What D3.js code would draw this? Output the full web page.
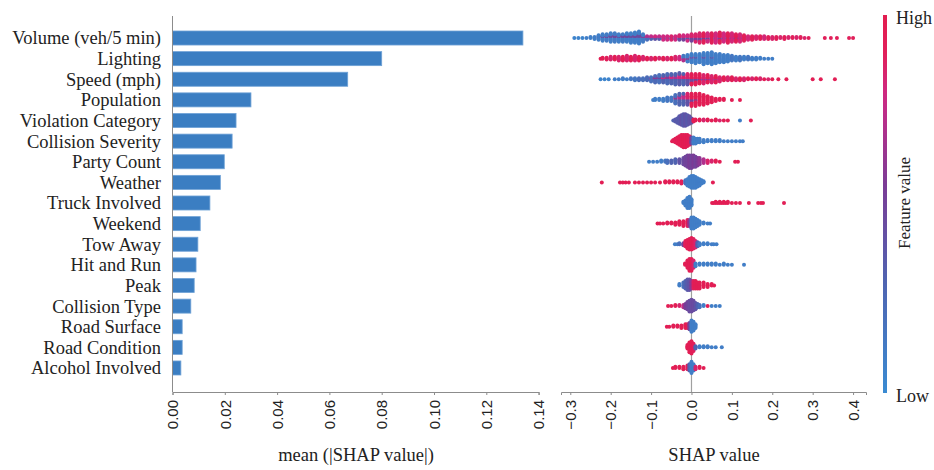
<!DOCTYPE html>
<html>
<head>
<meta charset="utf-8">
<script src="https://cdn.jsdelivr.net/npm/d3@7"></script>
<style>
  html, body { margin: 0; padding: 0; background: #fff; }
  svg { display: block; }
</style>
</head>
<body>
<script>
// Feature names, ordered by mean |SHAP|
const features = [
  "Volume (veh/5 min)", "Lighting", "Speed (mph)", "Population",
  "Violation Category", "Collision Severity", "Party Count", "Weather",
  "Truck Involved", "Weekend", "Tow Away", "Hit and Run", "Peak",
  "Collision Type", "Road Surface", "Road Condition", "Alcohol Involved"
];

// mean(|SHAP value|) per feature
const meanAbsShap = [
  0.134, 0.080, 0.067, 0.030, 0.0243, 0.0228, 0.0198, 0.0183,
  0.0143, 0.0106, 0.0097, 0.0090, 0.0083, 0.0070, 0.0037, 0.0037, 0.0032
];

const barTicks = [0, 0.02, 0.04, 0.06, 0.08, 0.10, 0.12, 0.14];
const shapTicks = [-0.3, -0.2, -0.1, 0.0, 0.1, 0.2, 0.3, 0.4];

// SHAP samples per feature: [shap value, number of samples, feature value (0 = low, 1 = high)]
const shapVolume = [
  [-0.29,1,0.05],[-0.28,1,0.05],[-0.27,1,0.05],[-0.26,1,0.1],[-0.25,2,0.1],
  [-0.24,3,0.1],[-0.23,5,0.1],[-0.23,1,0.4],[-0.22,6,0.1],[-0.22,2,0.45],[-0.21,6,0.12],[-0.21,2,0.5],
  [-0.20,7,0.1],[-0.20,3,0.45],[-0.19,7,0.12],[-0.19,3,0.5],[-0.18,7,0.1],[-0.18,2,0.45],
  [-0.17,6,0.12],[-0.17,3,0.5],[-0.16,7,0.1],[-0.16,3,0.5],[-0.15,8,0.1],[-0.15,3,0.45],
  [-0.14,9,0.1],[-0.14,3,0.5],[-0.13,10,0.1],[-0.13,4,0.45],[-0.12,7,0.12],[-0.12,2,0.6],
  [-0.11,3,0.2],[-0.11,2,0.7],[-0.10,2,0.3],[-0.10,2,0.75],[-0.09,2,0.4],[-0.09,2,0.8],
  [-0.08,2,0.35],[-0.08,2,0.75],[-0.07,2,0.4],[-0.07,3,0.8],[-0.06,2,0.5],[-0.06,3,0.8],
  [-0.05,2,0.4],[-0.05,3,0.85],[-0.04,2,0.5],[-0.04,3,0.8],[-0.03,3,0.45],[-0.03,3,0.85],
  [-0.02,3,0.5],[-0.02,3,0.8],[-0.01,3,0.4],[-0.01,4,0.8],
  [0.00,4,0.5],[0.00,4,0.85],[0.01,4,0.55],[0.01,5,0.85],[0.02,4,0.5],[0.02,7,0.85],
  [0.03,3,0.55],[0.03,8,0.92],[0.04,3,0.5],[0.04,7,0.8],[0.05,2,0.6],[0.05,9,0.92],
  [0.06,2,0.55],[0.06,9,0.8],[0.07,3,0.6],[0.07,9,0.92],[0.08,2,0.55],[0.08,8,0.8],
  [0.09,2,0.6],[0.09,9,0.92],[0.10,2,0.6],[0.10,8,0.82],[0.11,2,0.55],[0.11,7,0.92],
  [0.12,2,0.6],[0.12,7,0.82],[0.13,1,0.6],[0.13,6,0.9],[0.14,5,0.82],[0.15,5,0.92],
  [0.16,4,0.85],[0.17,4,0.9],[0.18,4,0.82],[0.19,3,0.9],[0.20,3,0.85],[0.21,3,0.9],
  [0.22,2,0.85],[0.23,3,0.9],[0.24,2,0.85],[0.25,2,0.9],[0.26,2,0.85],[0.27,2,0.9],
  [0.28,1,0.85],[0.29,1,0.9],
  [0.33,1,0.9],[0.345,1,0.9],[0.36,1,0.9],[0.39,1,0.9],[0.40,1,0.9]
];
const shapLighting = [
  [-0.225,1,0.95],[-0.22,2,0.95],[-0.21,3,0.9],[-0.20,4,0.85],[-0.19,4,0.95],[-0.18,5,0.85],
  [-0.17,5,0.95],[-0.16,6,0.85],[-0.15,5,0.95],[-0.14,6,0.85],[-0.13,5,0.95],[-0.12,4,0.85],
  [-0.11,3,0.95],[-0.10,3,0.85],[-0.09,3,0.95],[-0.08,2,0.85],[-0.07,3,0.95],[-0.06,3,0.85],
  [-0.05,3,0.95],[-0.04,4,0.85],[-0.03,4,0.8],[-0.02,3,0.7],[-0.02,3,0.15],[-0.01,3,0.6],[-0.01,5,0.1],
  [0.00,8,0.1],[0.00,2,0.6],[0.01,9,0.1],[0.01,2,0.5],[0.02,10,0.1],[0.03,11,0.1],[0.03,2,0.55],
  [0.04,12,0.1],[0.05,12,0.1],[0.05,2,0.45],[0.06,11,0.1],[0.07,10,0.1],[0.08,9,0.1],
  [0.09,8,0.1],[0.10,6,0.15],[0.11,5,0.1],[0.12,5,0.15],[0.13,4,0.1],[0.14,4,0.15],
  [0.15,3,0.1],[0.16,3,0.1],[0.17,2,0.1],[0.18,1,0.1],[0.19,1,0.1],[0.20,1,0.1]
];
const shapSpeed = [
  [-0.225,1,0.05],[-0.215,1,0.05],[-0.205,1,0.05],[-0.19,1,0.1],[-0.18,1,0.1],[-0.17,2,0.1],
  [-0.16,1,0.1],[-0.15,2,0.15],[-0.14,3,0.15],[-0.13,3,0.2],[-0.12,3,0.2],[-0.11,4,0.25],
  [-0.10,4,0.2],[-0.10,1,0.7],[-0.09,5,0.25],[-0.09,2,0.6],[-0.08,6,0.2],[-0.08,2,0.5],
  [-0.07,6,0.3],[-0.07,2,0.8],[-0.06,7,0.25],[-0.06,3,0.6],[-0.05,7,0.3],[-0.05,3,0.8],
  [-0.04,8,0.3],[-0.04,3,0.7],[-0.03,8,0.35],[-0.03,4,0.8],[-0.02,7,0.3],[-0.02,4,0.85],
  [-0.01,6,0.4],[-0.01,5,0.85],
  [0.00,4,0.45],[0.00,7,0.95],[0.01,3,0.5],[0.01,8,0.92],[0.02,2,0.55],[0.02,8,0.95],
  [0.03,2,0.6],[0.03,7,0.85],[0.04,2,0.6],[0.04,6,0.95],[0.05,1,0.6],[0.05,6,0.85],
  [0.06,2,0.7],[0.06,5,0.95],[0.07,5,0.85],[0.08,4,0.95],[0.09,4,0.85],[0.10,4,0.95],
  [0.11,3,0.85],[0.12,3,0.95],[0.13,3,0.85],[0.14,2,0.95],[0.15,2,0.85],[0.16,2,0.95],
  [0.17,2,0.85],[0.18,1,0.95],[0.19,1,0.85],[0.20,1,0.95],[0.215,1,0.95],[0.235,1,0.95],
  [0.30,1,0.95],[0.32,1,0.95],[0.355,1,0.95]
];
const shapPopulation = [
  [-0.095,1,0.1],[-0.09,2,0.1],[-0.08,2,0.1],[-0.07,3,0.1],[-0.06,4,0.15],[-0.05,4,0.15],
  [-0.04,6,0.2],[-0.04,2,0.6],[-0.03,7,0.3],[-0.03,3,0.7],[-0.02,6,0.3],[-0.02,4,0.75],
  [-0.01,5,0.4],[-0.01,5,0.85],[0.00,3,0.5],[0.00,8,0.95],[0.01,2,0.5],[0.01,9,0.95],
  [0.02,10,0.95],[0.03,9,0.95],[0.04,7,0.95],[0.05,5,0.95],[0.06,3,0.95],[0.07,2,0.95],
  [0.08,2,0.95],[0.10,1,0.95],[0.12,1,0.95]
];
const shapViolation = [
  [-0.045,1,0.3],[-0.04,3,0.35],[-0.035,5,0.35],[-0.03,8,0.35],[-0.025,10,0.4],[-0.02,12,0.35],
  [-0.015,12,0.4],[-0.01,10,0.35],[-0.005,8,0.4],[0.00,5,0.4],[0.005,3,0.95],[0.01,2,0.95],
  [0.02,2,0.95],[0.03,2,0.85],[0.04,2,0.95],[0.05,1,0.95],[0.06,2,0.95],[0.07,1,0.85],
  [0.08,1,0.95],[0.09,1,0.95],[0.12,1,0.1],[0.147,1,0.95]
];
const shapSeverity = [
  [-0.048,1,0.95],[-0.045,2,0.95],[-0.04,4,0.95],[-0.035,6,0.95],[-0.03,8,0.97],[-0.025,10,0.95],
  [-0.02,11,0.97],[-0.015,11,0.95],[-0.01,10,0.95],[-0.005,8,0.9],[0.00,6,0.5],[0.005,6,0.1],
  [0.01,5,0.1],[0.015,4,0.1],[0.02,4,0.1],[0.03,3,0.1],[0.04,2,0.1],[0.05,2,0.1],[0.06,2,0.1],
  [0.07,2,0.1],[0.08,1,0.1],[0.09,1,0.1],[0.10,1,0.1],[0.11,1,0.1],[0.12,1,0.1],[0.127,1,0.1]
];
const shapPartyCount = [
  [-0.105,1,0.1],[-0.095,1,0.1],[-0.085,1,0.1],[-0.075,2,0.1],[-0.065,2,0.15],[-0.06,3,0.2],
  [-0.05,3,0.3],[-0.04,4,0.3],[-0.03,4,0.4],[-0.02,6,0.45],[-0.015,8,0.5],[-0.01,10,0.5],
  [-0.005,11,0.55],[0.00,11,0.5],[0.005,10,0.55],[0.01,9,0.5],[0.015,7,0.55],[0.02,6,0.6],
  [0.03,4,0.7],[0.04,3,0.85],[0.05,2,0.85],[0.06,2,0.95],[0.07,1,0.95],[0.108,1,0.95],[0.115,1,0.95]
];
const shapWeather = [
  [-0.222,1,0.95],[-0.177,1,0.95],[-0.17,1,0.95],[-0.163,1,0.95],[-0.155,1,0.95],[-0.14,1,0.95],
  [-0.13,1,0.95],[-0.12,1,0.95],[-0.11,1,0.95],[-0.10,1,0.95],[-0.09,1,0.95],[-0.078,1,0.95],
  [-0.065,2,0.95],[-0.055,2,0.95],[-0.045,2,0.95],[-0.035,2,0.95],[-0.025,3,0.9],[-0.015,4,0.2],
  [-0.01,7,0.1],[-0.005,10,0.1],[0.00,12,0.1],[0.005,12,0.1],[0.01,11,0.1],[0.015,9,0.1],
  [0.02,7,0.1],[0.025,4,0.1],[0.03,2,0.1],[0.053,1,0.95]
];
const shapTruck = [
  [-0.02,2,0.1],[-0.015,5,0.1],[-0.01,9,0.1],[-0.005,10,0.1],[0.00,6,0.1],[0.051,1,0.95],
  [0.055,1,0.95],[0.06,2,0.95],[0.065,1,0.95],[0.07,2,0.95],[0.075,1,0.95],[0.08,2,0.95],
  [0.085,1,0.95],[0.09,2,0.95],[0.10,1,0.95],[0.11,1,0.95],[0.12,1,0.95],[0.142,1,0.95],
  [0.165,1,0.95],[0.172,1,0.95],[0.177,1,0.95],[0.229,1,0.95]
];
const shapWeekend = [
  [-0.084,1,0.95],[-0.078,1,0.95],[-0.07,1,0.95],[-0.06,2,0.95],[-0.05,2,0.95],[-0.04,3,0.95],
  [-0.03,4,0.95],[-0.02,5,0.95],[-0.01,6,0.9],[-0.005,6,0.6],[0.00,10,0.1],[0.005,10,0.1],
  [0.01,8,0.1],[0.015,6,0.1],[0.02,4,0.1],[0.03,2,0.1],[0.04,1,0.1],[0.046,1,0.1]
];
const shapTowAway = [
  [-0.041,1,0.1],[-0.035,1,0.1],[-0.03,2,0.2],[-0.02,3,0.5],[-0.015,6,0.9],[-0.01,9,0.95],
  [-0.005,11,0.95],[0.00,12,0.95],[0.005,10,0.9],[0.01,7,0.85],[0.015,5,0.3],[0.02,3,0.1],
  [0.03,2,0.1],[0.04,2,0.1],[0.05,1,0.1],[0.055,1,0.1],[0.062,1,0.1]
];
const shapHitRun = [
  [-0.016,2,0.95],[-0.01,6,0.95],[-0.005,9,0.95],[0.00,9,0.95],[0.005,6,0.85],[0.01,3,0.1],
  [0.02,2,0.1],[0.03,2,0.1],[0.04,2,0.1],[0.05,2,0.1],[0.06,2,0.1],[0.07,1,0.1],[0.08,2,0.1],
  [0.09,1,0.1],[0.10,1,0.1],[0.13,1,0.1]
];
const shapPeak = [
  [-0.03,2,0.1],[-0.02,4,0.2],[-0.015,6,0.3],[-0.01,8,0.35],[-0.005,8,0.4],[0.00,6,0.6],
  [0.005,6,0.9],[0.01,6,0.95],[0.015,5,0.95],[0.02,5,0.95],[0.03,4,0.95],[0.04,3,0.95],
  [0.05,2,0.95],[0.056,1,0.95]
];
const shapCollisionType = [
  [-0.058,1,0.95],[-0.05,1,0.95],[-0.04,2,0.95],[-0.03,2,0.85],[-0.02,3,0.75],[-0.015,5,0.55],
  [-0.01,8,0.5],[-0.005,11,0.45],[0.00,12,0.45],[0.005,10,0.45],[0.01,7,0.4],[0.015,4,0.3],
  [0.02,3,0.2],[0.03,2,0.1],[0.04,1,0.95],[0.05,1,0.1],[0.06,1,0.1],[0.07,1,0.1]
];
const shapRoadSurface = [
  [-0.061,1,0.95],[-0.055,1,0.95],[-0.045,2,0.95],[-0.035,2,0.95],[-0.025,3,0.95],[-0.015,4,0.95],
  [-0.01,4,0.95],[-0.005,6,0.5],[0.00,10,0.1],[0.005,8,0.1],[0.01,4,0.1]
];
const shapRoadCondition = [
  [-0.01,4,0.95],[-0.005,9,0.95],[0.00,11,0.95],[0.005,7,0.9],[0.01,3,0.3],[0.02,2,0.1],
  [0.03,2,0.1],[0.04,2,0.1],[0.05,1,0.1],[0.06,1,0.1],[0.075,1,0.1]
];
const shapAlcohol = [
  [-0.046,1,0.95],[-0.04,2,0.95],[-0.03,2,0.95],[-0.02,3,0.95],[-0.01,4,0.9],[-0.005,6,0.3],
  [0.00,10,0.1],[0.005,6,0.1],[0.01,3,0.85],[0.02,2,0.95],[0.03,1,0.95]
];

const shapRows = [
  shapVolume, shapLighting, shapSpeed, shapPopulation, shapViolation, shapSeverity,
  shapPartyCount, shapWeather, shapTruck, shapWeekend, shapTowAway, shapHitRun, shapPeak,
  shapCollisionType, shapRoadSurface, shapRoadCondition, shapAlcohol
];

// ---------- drawing ----------
const W = 934, H = 470;
const serif = "'Liberation Serif', 'DejaVu Serif', serif";
const sans = "'Liberation Sans', Arial, sans-serif";
const axisGrey = "#8c8c8c";
const textCol = "#222";

const svg = d3.select("body").append("svg")
  .attr("width", W).attr("height", H)
  .style("background", "#fff");

// shared row scale for both panels
const y = d3.scaleBand()
  .domain(features)
  .range([27.7, 378.3])
  .paddingInner(0.32)
  .paddingOuter(0.16);
const rowCenter = f => y(f) + y.bandwidth() / 2;

// blue -> purple -> red colour map for feature values
const colorMap = d3.scaleLinear()
  .domain([0, 0.3, 0.55, 0.78, 0.9, 1])
  .range(["#3a8bd2", "#5063b0", "#7b3c96", "#cc2a86", "#e11f5a", "#e21d50"])
  .interpolate(d3.interpolateRgb)
  .clamp(true);

// ===== left panel: mean |SHAP| bars =====
const xBar = d3.scaleLinear().domain([0, 0.14]).range([172.5, 538.6]);
const left = svg.append("g");

left.selectAll("rect.bar")
  .data(features)
  .join("rect")
  .attr("class", "bar")
  .attr("x", xBar(0))
  .attr("y", d => y(d))
  .attr("width", (d, i) => xBar(meanAbsShap[i]) - xBar(0))
  .attr("height", y.bandwidth())
  .attr("fill", "#3b7ec2")
  .attr("stroke", "#6fa2d6")
  .attr("stroke-width", 0.8);

left.selectAll("text.cat")
  .data(features)
  .join("text")
  .attr("class", "cat")
  .attr("x", 161)
  .attr("y", d => rowCenter(d))
  .attr("dy", "0.35em")
  .attr("text-anchor", "end")
  .attr("font-family", serif)
  .attr("font-size", 18.5)
  .attr("fill", textCol)
  .text(d => d);

// left spine
left.append("line")
  .attr("x1", xBar(0)).attr("x2", xBar(0))
  .attr("y1", 16).attr("y2", 392)
  .attr("stroke", axisGrey).attr("stroke-width", 1);

const barAxis = d3.axisBottom(xBar)
  .tickValues(barTicks)
  .tickFormat(d3.format(".2f"))
  .tickSize(3)
  .tickPadding(4);
const gBarAxis = svg.append("g").attr("transform", "translate(0,392)").call(barAxis);

// ===== right panel: SHAP beeswarm =====
const xShap = d3.scaleLinear().domain([-0.323, 0.432]).range([561, 866]);
const right = svg.append("g");

// zero reference line
right.append("line")
  .attr("x1", xShap(0)).attr("x2", xShap(0))
  .attr("y1", 16).attr("y2", 392)
  .attr("stroke", "#a0a0a0").attr("stroke-width", 1.2);

// beeswarm layout: quantise along x, then alternate samples above/below the row centre
function swarm(rows, step) {
  const pts = [];
  rows.forEach(([v, n, fv], ti) => {
    for (let k = 0; k < n; k++) pts.push({ v, fv, k, ti });
  });
  const vmin = d3.min(pts, p => p.v), vmax = d3.max(pts, p => p.v);
  const nbins = 100;
  pts.forEach(p => p.q = Math.round(nbins * (p.v - vmin) / (vmax - vmin + 1e-8)));
  pts.sort((a, b) => a.q - b.q || a.k - b.k || a.ti - b.ti);
  let layer = 0, last = -1;
  pts.forEach(p => {
    if (p.q !== last) layer = 0;
    p.layer = Math.ceil(layer / 2) * ((layer % 2) * 2 - 1);
    layer += 1;
    last = p.q;
  });
  const maxL = d3.max(pts, p => p.layer + 1);
  pts.forEach(p => p.dy = p.layer * 0.9 * (0.4 / maxL) * step);
  return pts;
}

features.forEach((f, i) => {
  const pts = swarm(shapRows[i], y.step());
  right.append("g")
    .selectAll("circle")
    .data(pts)
    .join("circle")
    .attr("cx", p => xShap(p.v))
    .attr("cy", p => rowCenter(f) - p.dy)
    .attr("r", 2)
    .attr("fill", p => colorMap(p.fv));
});

const shapAxis = d3.axisBottom(xShap)
  .tickValues(shapTicks)
  .tickFormat(d3.format(".1f"))
  .tickSize(3)
  .tickPadding(4);
const gShapAxis = svg.append("g").attr("transform", "translate(0,392)").call(shapAxis);

// shared axis styling: grey lines, rotated sans labels
[gBarAxis, gShapAxis].forEach(g => {
  g.select(".domain").attr("stroke", axisGrey).attr("stroke-width", 1);
  g.selectAll(".tick line").attr("stroke", axisGrey);
  g.selectAll(".tick text")
    .attr("font-family", sans)
    .attr("font-size", 15)
    .attr("fill", textCol)
    .attr("text-anchor", "end")
    .attr("transform", "rotate(-90)")
    .attr("x", -8)
    .attr("y", 0)
    .attr("dy", "0.35em");
});

// axis titles
svg.append("text")
  .attr("x", 356).attr("y", 461)
  .attr("text-anchor", "middle")
  .attr("font-family", serif).attr("font-size", 18.5).attr("fill", textCol)
  .text("mean (|SHAP value|)");
svg.append("text")
  .attr("x", 714).attr("y", 461)
  .attr("text-anchor", "middle")
  .attr("font-family", serif).attr("font-size", 18.5).attr("fill", textCol)
  .text("SHAP value");

// ===== colour bar =====
const defs = svg.append("defs");
const grad = defs.append("linearGradient")
  .attr("id", "fvGrad")
  .attr("x1", 0).attr("y1", 1).attr("x2", 0).attr("y2", 0);
d3.range(0, 1.0001, 0.05).forEach(t => {
  grad.append("stop").attr("offset", t).attr("stop-color", colorMap(t));
});
svg.append("rect")
  .attr("x", 883).attr("y", 15)
  .attr("width", 4).attr("height", 378)
  .attr("fill", "url(#fvGrad)");

svg.append("text")
  .attr("x", 896).attr("y", 18).attr("dy", "0.35em")
  .attr("font-family", serif).attr("font-size", 18).attr("fill", textCol)
  .text("High");
svg.append("text")
  .attr("x", 896).attr("y", 396).attr("dy", "0.35em")
  .attr("font-family", serif).attr("font-size", 18).attr("fill", textCol)
  .text("Low");
svg.append("text")
  .attr("transform", "translate(904,203) rotate(-90)")
  .attr("text-anchor", "middle")
  .attr("dy", "0.35em")
  .attr("font-family", serif).attr("font-size", 17).attr("fill", textCol)
  .text("Feature value");
</script>
</body>
</html>
